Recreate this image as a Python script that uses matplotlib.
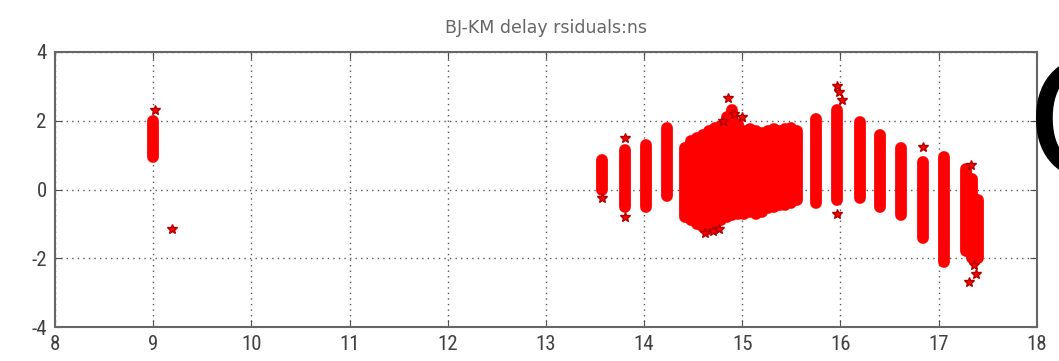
import matplotlib.pyplot as plt
from matplotlib import font_manager
import numpy as np

# residual columns (one per observation pass): x position, lowest and highest residual
col_x = [9.00, 13.57, 13.81, 14.02, 14.23,
         14.42, 14.48, 14.54, 14.60, 14.66, 14.72, 14.78, 14.84, 14.90, 14.96,
         15.02, 15.08, 15.14, 15.20, 15.26, 15.32, 15.38, 15.44, 15.50, 15.56,
         15.75, 15.97, 16.20, 16.40, 16.62, 16.84, 17.05, 17.28, 17.34, 17.40]
col_lo = [0.95, 0.0, -0.5, -0.5, -0.2,
          -0.8, -0.9, -1.0, -1.1, -1.15, -1.0, -0.9, -0.8, -0.75, -0.7,
          -0.7, -0.65, -0.7, -0.65, -0.55, -0.5, -0.45, -0.45, -0.4, -0.3,
          -0.4, -0.3, -0.25, -0.5, -0.75, -1.4, -2.1, -1.8, -2.0, -2.0]
col_hi = [2.0, 0.85, 1.15, 1.3, 1.8,
          1.2, 1.4, 1.5, 1.6, 1.7, 1.8, 1.85, 2.1, 2.3, 1.9,
          1.7, 1.75, 1.7, 1.65, 1.7, 1.75, 1.7, 1.75, 1.8, 1.7,
          2.05, 2.3, 1.95, 1.6, 1.2, 0.8, 0.95, 0.6, 0.3, -0.3]

# isolated residuals
pt_x = [9.02, 9.19, 13.57, 13.81, 13.81, 14.85, 14.80, 14.92, 14.62, 14.70,
        14.76, 15.00, 15.97, 15.99, 16.02, 15.97, 16.84, 17.33, 17.36, 17.38, 17.31]
pt_y = [2.3, -1.15, -0.25, 1.5, -0.8, 2.65, 2.0, 2.2, -1.25, -1.2,
        -1.15, 2.1, 3.0, 2.85, 2.6, -0.7, 1.25, 0.7, -2.2, -2.45, -2.7]

xticks = [8, 9, 10, 11, 12, 13, 14, 15, 16, 17, 18]
yticks = [-4, -2, 0, 2, 4]

plt.rcParams['axes.unicode_minus'] = False

# pick a narrow face if one is installed
names = set(f.name for f in font_manager.fontManager.ttflist)
narrow = 'DejaVu Sans'
for cand in ['Liberation Sans Narrow', 'DejaVu Sans Condensed', 'Roboto Condensed']:
    if cand in names:
        narrow = cand
        break

fig = plt.figure(figsize=(10.59, 3.61), dpi=100)
ax = fig.add_axes([0.052, 0.094, 0.927, 0.762])

ax.vlines(col_x, col_lo, col_hi, colors='red', linewidth=8.5, capstyle='round', zorder=3)
ax.plot(pt_x, pt_y, '*', color='red', markeredgecolor='#b00000', markersize=7, zorder=4)

ax.set_xlim(8, 18)
ax.set_ylim(-4, 4)
ax.set_xticks(xticks)
ax.set_yticks(yticks)
ax.grid(True, color='0.35', linestyle=(0, (1, 3)), linewidth=1)
ax.tick_params(direction='in', top=True, right=True, length=5, color='0.3',
               labelsize=15, labelcolor='0.25', pad=6)
for lab in ax.get_xticklabels() + ax.get_yticklabels():
    lab.set_family(narrow)
    lab.set_stretch('condensed')
for s in ax.spines.values():
    s.set_color('0.4')
    s.set_linewidth(1.5)

ax.set_title('BJ-KM delay rsiduals:ns', fontsize=12.5, color='0.4', pad=14,
             family='DejaVu Sans')

# large glyph at the right edge, cut off by the figure border as in the source
fig.text(1027 / 1059, 1 - 177 / 361, 'O', fontsize=116,
         color='black', ha='left', va='baseline')

fig.savefig('out.png', dpi=100)
